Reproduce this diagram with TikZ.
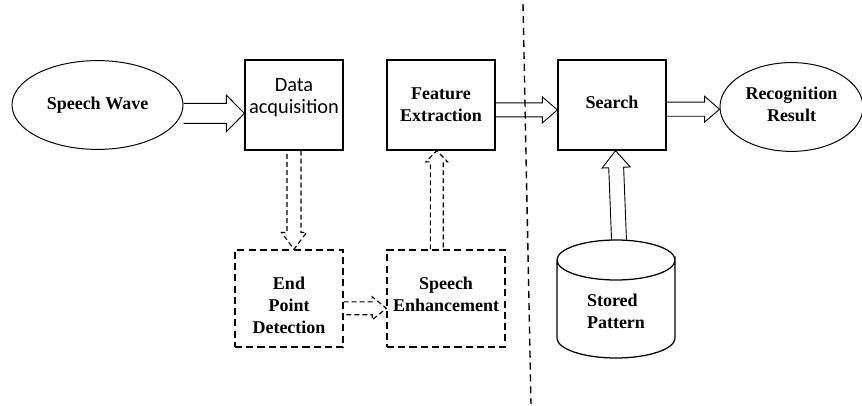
\documentclass[tikz,border=0pt]{standalone}
\usepackage{fontspec}
\setmainfont{Liberation Serif}[BoldFont={Liberation Serif Bold}]
\newfontfamily\calfont{Carlito}
\usetikzlibrary{shapes.geometric,calc}

\tikzset{
	hollow/.style args={#1:#2:#3}{
		to path={
			let \p1=(\tikztostart), \p2=(\tikztotarget),
			\n1={atan2(\y2-\y1,\x2-\x1)}, \n2={veclen(\x2-\x1,\y2-\y1)} in
			{[shift={(\p1)},rotate=\n1]
				(0pt,{#1*1pt}) -- ({(\n2-#3)*1pt},{#1*1pt}) -- ({(\n2-#3)*1pt},{#2*1pt})
				-- ({\n2*1pt},0pt) -- ({(\n2-#3)*1pt},{-#2*1pt}) -- ({(\n2-#3)*1pt},{-#1*1pt}) -- (0pt,{-#1*1pt})}
		}
	},
	lbl/.style={font=\fontsize{12.8}{15.6}\selectfont\bfseries,align=center},
	blk/.style={lbl,draw,line width=0.9pt,minimum width=#1,minimum height=2.25cm,inner sep=1pt},
	dblk/.style={lbl,draw,line width=0.9pt,dash pattern=on 5pt off 3pt,minimum width=#1,minimum height=2.425cm,inner sep=1pt},
	oval/.style={lbl,ellipse,draw,line width=0.7pt,minimum width=#1,minimum height=2.22cm,inner sep=0pt},
	harrow/.style={line width=0.65pt},
	darrow/.style={line width=0.8pt,dash pattern=on 3.5pt off 2.2pt}
}

\begin{document}
\begin{tikzpicture}[x=0.025cm,y=-0.025cm]
	\useasboundingbox (0,0) rectangle (862,406);
	%% upper row
	\node[oval=4.275cm] (wave) at (97.5,105) {Speech Wave};
	\node[blk=2.45cm] (acq) at (294,105) {};
	\node[font=\calfont\fontsize{14.5}{15.2}\selectfont,align=center] (acqtxt) at (294,97.5) {Data\\acquisition};
	\node[blk=2.7cm] (feat) at (441,105) {Feature\\Extraction};
	\node[blk=2.7cm] (search) at (612,105) {};
	\node[lbl] (searchtxt) at ([yshift=2pt]search.center) {Search};
	\node[oval=3.575cm] (result) at (791.5,107) {};
	\node[lbl] (resulttxt) at ([yshift=2pt]result.center) {Recognition\\Result};
	%% lower row
	\node[dblk=2.7cm] (epd) at (289,298.5) {};
	\node[lbl] (epdtxt) at ([yshift=-5pt]epd.center) {End\\Point\\Detection};
	\node[dblk=2.95cm] (enh) at (446,298.5) {};
	\node[lbl] (enhtxt) at ([yshift=3pt]enh.center) {Speech\\Enhancement};
	%% database
	\draw[line width=0.9pt] (557,260) -- (557,338) arc[start angle=180,end angle=0,x radius=59,y radius=20]
		-- (675,260) arc[start angle=0,end angle=180,x radius=59,y radius=20]
		arc[start angle=180,end angle=360,x radius=59,y radius=20];
	\coordinate (storetop) at (615.5,240);
	\node[lbl,align=left] (store) at (616,311) {Stored\\Pattern};
	%% separator
	\draw[line width=1pt,dash pattern=on 5pt off 3.5pt] (523,4) -- (531,404);
	%% arrows
	\draw[harrow,hollow=7.1:13:12.8] ([yshift=-6pt]wave.east) to ([yshift=-6pt]acq.west);
	\draw[harrow,hollow=5:9.2:10.6] ([yshift=-3.5pt]feat.east) to ([yshift=-3.5pt]search.west);
	\draw[harrow,hollow=5:9.2:10.6] ([yshift=-3pt]search.east) to ([yshift=-3pt]search.east -| result.west);
	\draw[harrow,hollow=5.3:10:12] ([xshift=2.5pt]storetop) to ([xshift=2.5pt]search.south);
	\draw[darrow,hollow=5:8.9:12] (acq.south) to (acq.south |- epd.north);
	\draw[darrow,hollow=4.6:8.2:10] ([yshift=-7pt]epd.east) to ([yshift=-7pt]enh.west);
	\draw[darrow,hollow=4.6:7.8:8] ([xshift=-3pt]feat.south |- enh.north) to ([xshift=-3pt]feat.south);
\end{tikzpicture}
\end{document}
